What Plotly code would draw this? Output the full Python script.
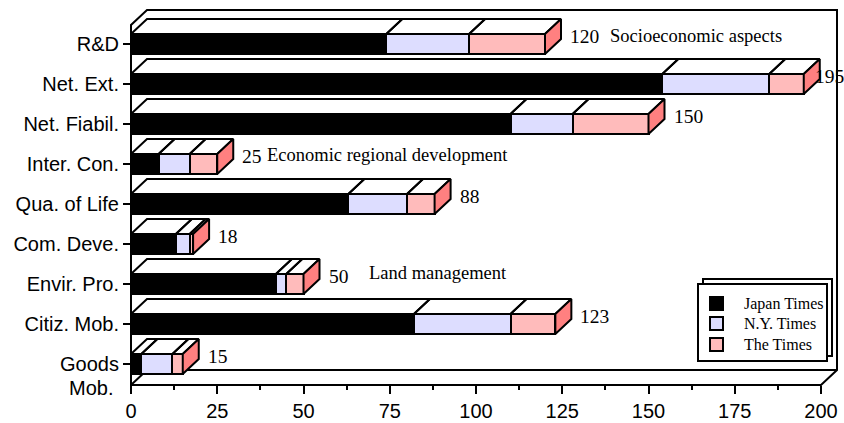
import plotly.graph_objects as go

# ---- data -------------------------------------------------------------
categories = ["R&D", "Net. Ext.", "Net. Fiabil.", "Inter. Con.", "Qua. of Life",
              "Com. Deve.", "Envir. Pro.", "Citiz. Mob.", "Goods"]
japan_times = [74, 154, 110, 8, 63, 13, 42, 82, 3]
ny_times = [24, 31, 18, 9, 17, 4, 3, 28, 9]
the_times = [22, 10, 22, 8, 8, 1, 5, 13, 3]
totals = [120, 195, 150, 25, 88, 18, 50, 123, 15]
x_ticks = [0, 25, 50, 75, 100, 125, 150, 175, 200]

series_names = ["Japan Times", "N.Y. Times", "The Times"]
group_labels = ["Socioeconomic aspects", "Economic regional development", "Land management"]
group_rows = ["R&D", "Inter. Con.", "Envir. Pro."]

# ---- styling / geometry -------------------------------------------------
front_colors = ["#000000", "#DDDDFF", "#FFBBBB"]
side_colors = ["#404040", "#A9A9E6", "#FF8080"]
SANS = "Liberation Sans, Arial, Helvetica, sans-serif"
SERIF = "Liberation Serif, Times New Roman, serif"

W, H = 844, 423
L, R, T, B = 125, 841, 5, 392          # plot area in pixels
X0_PX, XMAX_PX = 131, 821              # pixel of value 0 and 200
K = (XMAX_PX - X0_PX) / 200.0          # px per value unit
ROW_PX, ROW0_PX = 40.0, 364.0          # row spacing, pixel of lowest row
DX = 16 / K                            # depth offset (x units)
DY = 15 / ROW_PX                       # depth offset (y units)
HALF = 0.25                            # half height of the front face
Y_FLOOR = (ROW0_PX - 385) / ROW_PX
Y_CEIL = (ROW0_PX - 10) / ROW_PX
XM = x_ticks[-1]

x_range = [(L - X0_PX) / K, (R - X0_PX) / K]
y_range = [(ROW0_PX - B) / ROW_PX, (ROW0_PX - T) / ROW_PX]

n = len(categories)
rows = [n - 1 - i for i in range(n)]
series = [japan_times, ny_times, the_times]

fig = go.Figure()

# front faces: stacked horizontal bars
for name, vals, col in zip(series_names, series, front_colors):
    fig.add_trace(go.Bar(
        y=rows, x=vals, orientation="h", width=2 * HALF, name=name,
        marker=dict(color=col, line=dict(color="black", width=2)),
        hoverinfo="skip", showlegend=False))

# top faces (white) and end faces of each stack
top_x, top_y = [], []
side_x = [[] for _ in series]
side_y = [[] for _ in series]
for i, r in enumerate(rows):
    start = 0.0
    last = None
    for s, vals in enumerate(series):
        v = vals[i]
        if v <= 0:
            continue
        x0, x1 = start, start + v
        top_x += [x0, x1, x1 + DX, x0 + DX, x0, None]
        top_y += [r + HALF, r + HALF, r + HALF + DY, r + HALF + DY, r + HALF, None]
        start = x1
        last = s
    if last is not None:
        xe = start
        side_x[last] += [xe, xe, xe + DX, xe + DX, xe, None]
        side_y[last] += [r - HALF, r + HALF, r + HALF + DY, r - HALF + DY, r - HALF, None]

fig.add_trace(go.Scatter(x=top_x, y=top_y, mode="lines", fill="toself",
                         fillcolor="white", line=dict(color="black", width=2),
                         showlegend=False, hoverinfo="skip"))
for s in range(len(series)):
    if side_x[s]:
        fig.add_trace(go.Scatter(x=side_x[s], y=side_y[s], mode="lines", fill="toself",
                                 fillcolor=side_colors[s], line=dict(color="black", width=2),
                                 showlegend=False, hoverinfo="skip"))

# frame: side wall edge, back wall and floor
frame = (f"M 0,{Y_FLOOR} L 0,{Y_CEIL - DY} L {DX},{Y_CEIL} L {XM + DX},{Y_CEIL} "
         f"L {XM + DX},{Y_FLOOR + DY} L {XM},{Y_FLOOR} Z")
floor_back = f"M 0,{Y_FLOOR} L {DX},{Y_FLOOR + DY} L {XM + DX},{Y_FLOOR + DY}"
shapes = [
    dict(type="path", path=frame, xref="x", yref="y", layer="below",
         line=dict(color="black", width=2)),
    dict(type="path", path=floor_back, xref="x", yref="y", layer="below",
         line=dict(color="black", width=2)),
]


def px_x(p):
    return (p - L) / (R - L)


def px_y(p):
    return (B - p) / (B - T)


annotations = []

# legend box with its offset shadow, swatches and names
LEG_L, LEG_R, LEG_T, LEG_B = 698, 827, 284, 361
shapes.append(dict(type="rect", xref="paper", yref="paper",
                   x0=px_x(LEG_L + 5), x1=px_x(LEG_R + 5),
                   y0=px_y(LEG_B - 5), y1=px_y(LEG_T - 5),
                   fillcolor="white", line=dict(color="black", width=2), layer="above"))
shapes.append(dict(type="rect", xref="paper", yref="paper",
                   x0=px_x(LEG_L), x1=px_x(LEG_R), y0=px_y(LEG_B), y1=px_y(LEG_T),
                   fillcolor="white", line=dict(color="black", width=2), layer="above"))
leg_rows_px = [303.5, 323.5, 344.5]
for name, col, cy in zip(series_names, front_colors, leg_rows_px):
    shapes.append(dict(type="rect", xref="paper", yref="paper",
                       x0=px_x(710), x1=px_x(723), y0=px_y(cy + 6.5), y1=px_y(cy - 6.5),
                       fillcolor=col, line=dict(color="black", width=2), layer="above"))
    annotations.append(dict(x=px_x(742), y=px_y(cy), xref="paper", yref="paper",
                            text=name, showarrow=False, xanchor="left", yanchor="middle",
                            font=dict(family=SERIF, size=16, color="black")))

# value labels at the end of every stack
VAL_FONT = 19.5
for i, r in enumerate(rows):
    txt = str(totals[i])
    end_px = X0_PX + (totals[i] + DX) * K
    w = 0.5 * VAL_FONT * len(txt)
    shift = min(7, (W - 2 - w) - end_px)
    annotations.append(dict(x=totals[i] + DX, y=r + DY / 2, xref="x", yref="y",
                            text=txt, showarrow=False, xanchor="left", yanchor="middle",
                            xshift=shift, font=dict(family=SERIF, size=VAL_FONT, color="black")))

# group captions
group_x = [138.3, 38.8, 68.4]
group_dy = [0.2, 0.22, 0.27]
for txt, cat, gx, gdy in zip(group_labels, group_rows, group_x, group_dy):
    r = rows[categories.index(cat)]
    annotations.append(dict(x=gx, y=r + gdy, xref="x", yref="y", text=txt,
                            showarrow=False, xanchor="left", yanchor="middle",
                            font=dict(family=SERIF, size=18.5, color="black")))

# second line of the last category label
annotations.append(dict(x=px_x(131), y=rows[-1] - 0.6, xref="paper", yref="y",
                        text="Mob.", showarrow=False, xanchor="right", yanchor="middle",
                        xshift=-16, font=dict(family=SANS, size=20, color="black")))

minor_ticks = [(a + b) / 2 for a, b in zip(x_ticks[:-1], x_ticks[1:])]

fig.update_layout(
    width=W, height=H, barmode="stack",
    margin=dict(l=L, r=W - R, t=T, b=H - B, pad=0),
    paper_bgcolor="white", plot_bgcolor="white",
    font=dict(family=SANS, size=20, color="black"),
    shapes=shapes, annotations=annotations,
    xaxis=dict(range=x_range, anchor="free", position=px_y(385),
               tickmode="array", tickvals=x_ticks, ticktext=[str(t) for t in x_ticks],
               ticks="outside", ticklen=8, tickwidth=2, tickcolor="black",
               minor=dict(tickvals=minor_ticks, ticks="outside", ticklen=4,
                          tickwidth=2, tickcolor="black"),
               showgrid=False, zeroline=False, showline=False,
               tickfont=dict(family=SANS, size=20, color="black"), automargin=False),
    yaxis=dict(range=y_range, anchor="free", position=px_x(X0_PX),
               tickmode="array", tickvals=rows, ticktext=categories,
               ticks="outside", ticklen=8, tickwidth=2, tickcolor="black",
               showgrid=False, zeroline=False, showline=False,
               tickfont=dict(family=SANS, size=20, color="black"), automargin=False),
    showlegend=False,
)

fig.write_html("out.html")
